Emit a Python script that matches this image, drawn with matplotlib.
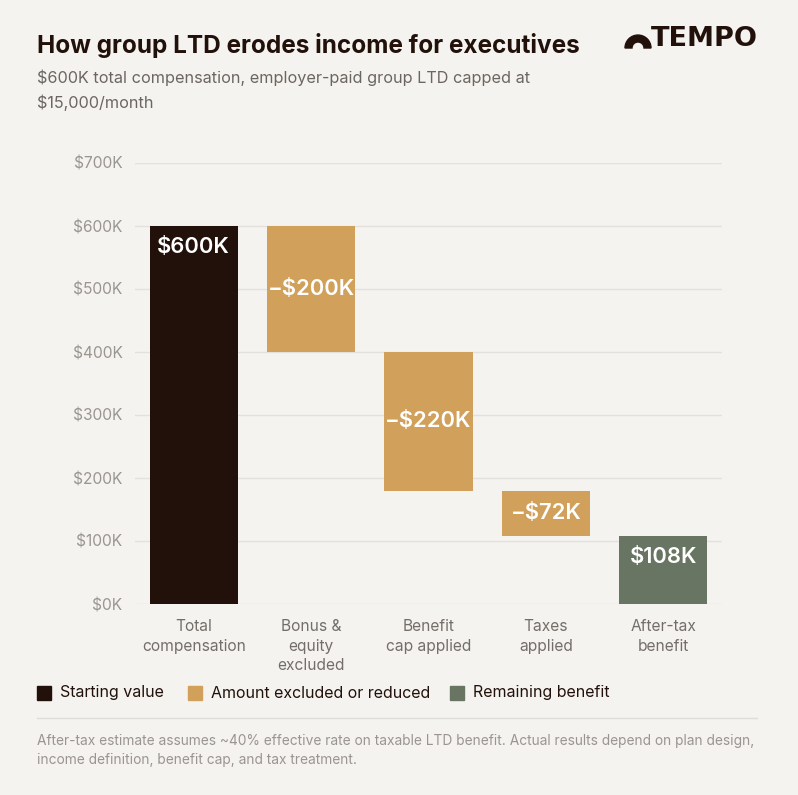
import numpy as np
import matplotlib.pyplot as plt
from matplotlib.patches import Rectangle, Wedge
from matplotlib.ticker import FuncFormatter

# data (thousands of dollars)
categories = ["Total\ncompensation", "Bonus &\nequity\nexcluded", "Benefit\ncap applied",
              "Taxes\napplied", "After-tax\nbenefit"]
steps = [600, -200, -220, -72, 108]
kinds = ["start", "delta", "delta", "delta", "end"]
bar_labels = ["$600K", "\u2212$200K", "\u2212$220K", "\u2212$72K", "$108K"]
yticks = [0, 100, 200, 300, 400, 500, 600, 700]

BG = "#F5F3EF"
DARK = "#22110B"
GOLD = "#D1A05A"
GREEN = "#687562"
colors = {"start": DARK, "delta": GOLD, "end": GREEN}

plt.rcParams['font.family'] = ['Inter', 'DejaVu Sans']

W, H = 798, 795
fig = plt.figure(figsize=(W / 100, H / 100), dpi=100, facecolor=BG)

def fx(px):
    return px / W

def fy(py):
    return 1 - py / H

ax = fig.add_axes([fx(135), fy(604), fx(722) - fx(135), fy(163) - fy(604)])
ax.set_facecolor(BG)

# waterfall bottoms/heights
running = 0
for i, (v, k) in enumerate(zip(steps, kinds)):
    if k == "start":
        bottom, height = 0, v
        running = v
    elif k == "delta":
        bottom, height = running + v, -v
        running += v
    else:
        bottom, height = 0, v
    ax.bar(i, height, bottom=bottom, width=0.75, color=colors[k], zorder=3)
    if k == "delta":
        ty = bottom + height / 2
    else:
        ty = bottom + height - 33
    ax.text(i, ty, bar_labels[i], ha="center", va="center", color="white",
            fontsize=15.8, fontweight="semibold", zorder=4)

ax.set_xlim(-0.5, len(categories) - 0.5)
ax.set_ylim(0, 700)
ax.set_yticks(yticks)
ax.yaxis.set_major_formatter(FuncFormatter(lambda v, p: f"${int(v)}K"))
ax.set_xticks(range(len(categories)))
ax.set_xticklabels(categories, fontsize=11.2, color="#736E69", linespacing=1.38)
ax.tick_params(axis="x", length=0, pad=11)
ax.tick_params(axis="y", length=0, pad=9, labelsize=11.2, labelcolor="#9A9590")
ax.grid(axis="y", color="#E4E1DC", linewidth=1, zorder=0)
for s in ax.spines.values():
    s.set_visible(False)

# title & subtitle
fig.text(fx(37), fy(45), "How group LTD erodes income for executives", fontsize=17.5,
         fontweight="bold", color=DARK, va="center", ha="left")
fig.text(fx(37), fy(78), "$600K total compensation, employer-paid group LTD capped at",
         fontsize=11.7, color="#6B6661", va="center", ha="left")
fig.text(fx(37), fy(103), "$15,000/month", fontsize=11.7, color="#6B6661",
         va="center", ha="left")

# logo
fig.patches.append(Wedge((fx(638), fy(48)), fx(13), 0, 180, width=fx(7),
                         transform=fig.transFigure, color=DARK))
fig.text(fx(651), fy(39), "TEMPO", fontsize=19.5, fontweight="bold", color=DARK,
         va="center", ha="left", family="DejaVu Sans")

# legend
legend_items = [("Starting value", DARK, 37), ("Amount excluded or reduced", GOLD, 188),
                ("Remaining benefit", GREEN, 450)]
for name, c, x0 in legend_items:
    fig.patches.append(Rectangle((fx(x0), fy(700)), fx(14), fy(686) - fy(700),
                                 transform=fig.transFigure, color=c))
    fig.text(fx(x0 + 23), fy(693), name, fontsize=11.5, color=DARK, va="center", ha="left")

# separator and footnote
fig.add_artist(plt.Line2D([fx(37), fx(757)], [fy(718), fy(718)], color="#E0DDD8",
                          linewidth=1, transform=fig.transFigure))
fig.text(fx(37), fy(741), "After-tax estimate assumes ~40% effective rate on taxable LTD "
         "benefit. Actual results depend on plan design,", fontsize=9.92, color="#9A9590",
         va="center", ha="left")
fig.text(fx(37), fy(760), "income definition, benefit cap, and tax treatment.",
         fontsize=9.92, color="#9A9590", va="center", ha="left")

fig.savefig("out.png", dpi=100, facecolor=BG)
